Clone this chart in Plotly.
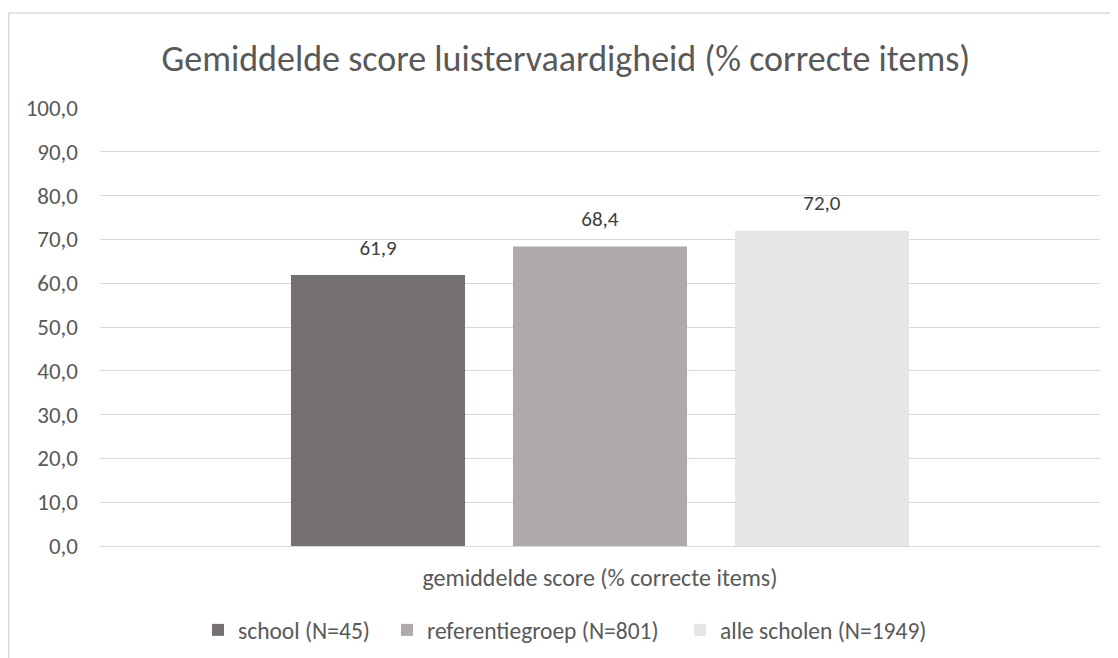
import plotly.graph_objects as go

categories = ["gemiddelde score (% correcte items)"]
series_names = ["school (N=45)", "referentiegroep (N=801)", "alle scholen (N=1949)"]
series_values = [[61.9], [68.4], [72.0]]
series_colors = ["#767171", "#AEAAAA", "#E7E6E6"]
y_ticks = [0, 10, 20, 30, 40, 50, 60, 70, 80, 90, 100]
title_text = "Gemiddelde score luistervaardigheid (% correcte items)"

FONT = "Calibri, Carlito, Lato, sans-serif"
TXT = "#595959"

legend_ids = ["legend", "legend2", "legend3"]
legend_x = [0.098, 0.287, 0.580]

fig = go.Figure()
for name, vals, col, lid in zip(series_names, series_values, series_colors, legend_ids):
    fig.add_trace(go.Bar(
        x=categories, y=vals, name=name, legend=lid,
        marker=dict(color=col, line=dict(width=0)),
        texttemplate="<span style='font-size:21px'>%{y:.1f}</span><br> ",
        textposition="outside",
        textfont=dict(family=FONT, size=11, color="#404040"),
        cliponaxis=False,
    ))

legend_common = dict(orientation="h", xanchor="left", y=-0.192, yanchor="middle",
                     font=dict(family=FONT, size=23.5, color=TXT), itemwidth=30,
                     bgcolor="rgba(0,0,0,0)")
layout_legends = {lid: dict(legend_common, x=lx) for lid, lx in zip(legend_ids, legend_x)}

fig.update_layout(
    width=1118, height=658,
    margin=dict(l=92, r=26, t=100, b=120),
    paper_bgcolor="white", plot_bgcolor="white",
    separators=",.",
    barmode="group", bargap=0.334, bargroupgap=0.216,
    title=dict(text=title_text, x=0.499, xanchor="center", y=0.923, yanchor="middle",
               font=dict(family=FONT, size=36, color=TXT)),
    font=dict(family=FONT, color=TXT),
    showlegend=True,
    xaxis=dict(showgrid=False, showline=False, ticks="", ticklabelstandoff=15,
               tickfont=dict(family=FONT, size=24, color=TXT)),
    yaxis=dict(range=[0, 100], tickvals=y_ticks, tickformat=".1f",
               showgrid=True, gridcolor="#D9D9D9", gridwidth=1,
               zeroline=True, zerolinecolor="#D9D9D9", zerolinewidth=1,
               showline=False, ticks="", ticklabelstandoff=21,
               tickfont=dict(family=FONT, size=23, color=TXT)),
    shapes=[dict(type="rect", xref="paper", yref="paper",
                 x0=-0.0912, x1=1.2, y0=-0.4, y1=1.2169,
                 line=dict(color="#D9D9D9", width=1.5), fillcolor="rgba(0,0,0,0)", layer="below")],
    **layout_legends,
)

fig.write_html("out.html")
